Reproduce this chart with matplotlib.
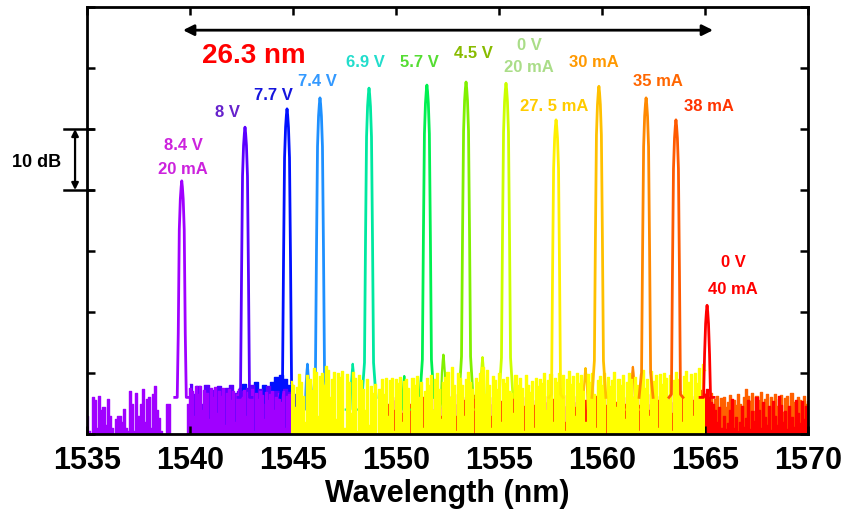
import numpy as np
from matplotlib import pyplot as plt

plt.rcParams['font.family'] = ['Liberation Sans', 'DejaVu Sans']
plt.rcParams['font.weight'] = 'bold'

# peak positions (nm) and peak levels (dB above floor of the plot)
peak_wl = [1539.6, 1542.67, 1544.71, 1546.31, 1548.69, 1551.50, 1553.40,
           1555.34, 1557.77, 1559.85, 1562.14, 1563.59, 1565.10]
peak_db = [41.5, 50.3, 53.3, 55.1, 56.7, 57.2, 57.7, 57.5, 51.5, 57.0, 55.1, 51.5, 21.1]
line_colors = ['#A000FF', '#5A00FF', '#0010FF', '#1E90FF', '#00E8A0', '#00F050', '#80F000',
               '#CCFF00', '#FFF000', '#FFC000', '#FF8800', '#FF5A00', '#FF0000']
label_colors = ['#CC22DD', '#6622CC', '#1515DD', '#3399FF', '#22DDCC', '#55DD33', '#88BB00',
                '#AADD88', '#FFCC00', '#FF9900', '#FF6600', '#FF3300', '#FF0000']
labels = [['8.4 V', '20 mA'], ['8 V'], ['7.7 V'], ['7.4 V'], ['6.9 V'], ['5.7 V'], ['4.5 V'],
          ['0 V', '20 mA'], ['27. 5 mA'], ['30 mA'], ['35 mA'], ['38 mA'], ['0 V', '40 mA']]
label_x = [1539.66, 1541.84, 1544.03, 1546.21, 1548.54, 1551.12, 1553.74,
           1556.46, 1557.67, 1559.61, 1562.72, 1565.19, 1566.36]
label_y = [[47.4, 43.6], [52.8], [55.6], [57.9], [61.1], [61.1], [62.6],
           [63.8, 60.2], [53.8], [61.0], [57.9], [53.8], [28.2, 23.9]]

# line shape of a lasing peak: offset from centre (nm) and drop below peak (dB)
shape_dx = [-0.34, -0.22, -0.17, -0.12, -0.07, -0.03, 0.0, 0.03, 0.07, 0.12, 0.17, 0.22, 0.34]
shape_drop = [60, 45, 25, 8, 3, 1, 0, 1, 3, 8, 25, 45, 60]

# weak side modes: wavelength, level, spectrum index
side_wl = [1545.7, 1547.9, 1550.4, 1552.3, 1554.2, 1559.2, 1561.5]
side_db = [11.5, 11.5, 9.5, 13.0, 12.6, 10.8, 11.0]
side_idx = [3, 4, 5, 6, 7, 9, 10]

# noise floors (0.1 nm steps unless noted)
purple_noise = [3, 0.5, 0, 6, 5.5, 1, 6.3, 4, 4.4, 1.5,
                5.7, 3, 1, 0, 2.5, 3, 3, 2, 4.1, 1,
                0.5, 7.1, 5, 0.5, 6.8, 3, 5, 7.4, 2, 5.7,
                6.0, 1, 6.6, 7.9, 4, 2.7, 0.5, 0, 0, 4.9,
                4.9, 0, 0, 0, 0, 0, 0, 0, 0, 5,
                7.5, 7.0, 3, 7.8, 6.5, 7.9, 4, 7.2, 6.8, 2.5,
                7.5, 6, 7.7, 3.5, 7.0, 6.2, 7.6, 1.5, 6.8, 7.3,
                5.5, 7.0, 2, 6.5, 7.4, 6.0, 7.2, 3, 6.9, 6.1,
                7.3, 0.5, 6.7, 5.8, 7.0, 6.4, 2.5, 6.9, 5.5, 6.6,
                7.1, 4, 6.0, 6.8, 5.2, 7.0, 1, 6.3, 6.5, 5.8, 4]
# 0.2 nm steps
violet_noise = [8.2, 6.5, 7.8, 5, 8.0, 7.2, 6.0, 7.9, 4.5, 7.5, 8.1, 6.8, 7.0,
                5.5, 7.6, 8.0, 6.2, 7.4, 5.0, 7.8, 6.6, 7.1, 4.0, 7.3, 6.9, 5.5]
blue_noise = [7.5, 8.2, 6.0, 7.8, 8.5, 6.8, 8.0, 7.2, 8.6, 9.3, 9.6, 9.0, 8.0, 6.5, 5.0]
yellow_noise = [8.7, 8.0, 4.5, 7.7, 9.8, 8.5, 6.3, 2.0, 9.6, 9.0,
                7.2, 10.9, 10.2, 3.0, 9.5, 10.0, 8.0, 11.2, 10.5, 6.0,
                9.0, 10.1, 2.5, 10.0, 9.4, 10.4, 1.0, 9.8, 8.5, 3.5,
                10.1, 9.2, 0.5, 9.6, 8.8, 7.4, 4.0, 9.0, 1.5, 7.9,
                6.8, 8.2, 0.0, 7.4, 9.0, 6.5, 9.1, 3.0, 8.8, 9.2,
                0.5, 9.0, 8.4, 9.3, 2.0, 8.7, 9.0, 7.5, 0.0, 9.1,
                8.0, 9.5, 6.0, 8.6, 1.0, 7.0, 9.2, 8.1, 9.6, 4.0,
                9.0, 10.0, 7.4, 2.5, 8.5, 9.4, 10.2, 6.0, 11.0, 8.0,
                0.5, 10.0, 9.2, 8.0, 3.0, 9.0, 10.2, 8.5, 7.4, 0.0,
                9.1, 8.5, 10.0, 11.0, 6.5, 10.5, 8.0, 1.0, 9.5, 8.8,
                7.4, 10.0, 2.0, 9.0, 8.3, 9.4, 7.0, 6.8, 3.5, 9.6,
                8.0, 9.2, 7.5, 0.5, 9.6, 8.1, 6.9, 8.7, 1.0, 9.2,
                7.8, 9.0, 8.4, 10.0, 4.0, 8.9, 9.8, 2.0, 9.2, 8.6,
                10.0, 7.6, 9.7, 0.5, 9.0, 10.3, 8.2, 9.5, 3.0, 10.0,
                8.4, 9.6, 7.0, 2.0, 9.8, 8.6, 10.0, 6.5, 1.0, 8.8,
                9.5, 8.0, 10.0, 0.0, 9.4, 7.8, 8.9, 10.2, 4.5, 9.0,
                8.0, 9.6, 2.5, 8.5, 10.0, 9.0, 6.0, 9.3, 8.1, 0.5,
                9.8, 10.5, 7.5, 9.0, 3.0, 10.4, 8.7, 9.6, 1.0, 9.9,
                8.2, 10.0, 9.1, 5.5, 9.6, 0.5, 8.8, 10.1, 9.0, 7.0,
                2.0, 9.5, 10.3, 8.6, 9.8, 3.0, 10.0, 8.4, 10.9, 6.0,
                11.5, 10.5]
red_noise = [3, 5, 2, 6, 4, 5.5, 1, 6, 3.5, 5,
             6, 2, 5, 4.5, 6.5, 3, 5, 1.5, 6, 4,
             5, 3, 6.2, 4, 2, 5.5, 6, 3, 4.5, 5.8,
             2.5, 6, 4, 5, 3, 6.5, 4.2, 1.5, 5.5, 6,
             4, 5.2, 2, 6.4, 3.5, 5, 6, 2.5, 4.8, 5.5,
             6.1, 3, 5, 4, 6.6, 2, 5.4, 4.5, 3, 6,
             5, 2.2, 6.3, 4, 5.5, 3, 6, 4.6, 2, 5.2,
             6.5, 3.5, 4.8, 5.6, 2, 6, 4, 5.3, 3, 6.2,
             4.4, 5.8, 2.5, 6, 3.8, 5, 6.4, 2, 4.6, 5.5,
             3, 6.3, 4.5, 5.2, 2.2, 6, 3.6, 5.6, 4, 6.6,
             5, 2.8, 6.2, 4.2, 5.5, 3, 6.4, 4.8, 2.4, 5.9,
             6, 4, 5.2, 2.6, 6.5, 3.4, 5, 6.1, 4.4, 2,
             5.6, 6.3, 3.2, 4.8, 6, 2.5, 5.4, 6.6, 4, 5,
             3, 6.2, 5.5, 4.2, 6.8, 2.8, 5.8, 4.6, 6.4, 3.5,
             5.2, 6.5, 4, 2.5, 6, 5, 3.6, 6.8, 4.8, 5.6,
             6.2, 4.4, 7, 7.2, 6.8, 6.5, 7.4, 6.0, 5.2, 5.0,
             4.0, 2.0, 4.5, 1.0, 3.0, 0.8, 1.8, 4.0, 5.8, 1.0,
             2.8, 0.5, 2.0, 4.6, 1.2, 2.6, 5.6, 0.8, 3.8, 2.2,
             6.0, 4.0, 1.0, 5.2, 2.8, 1.5, 4.6, 0.6, 5.4, 3.0,
             1.5, 6.2, 4.8, 2.0, 3.8, 0.8, 4.6, 2.8, 1.2, 5.6,
             3.4, 1.8, 5.4, 2.4, 4.6, 3.2]
orange_noise = [6.5, 7.0, 5.5, 6.8, 4.0, 5.7, 6.2, 3.5, 5.9, 6.0,
                4.5, 5.2, 6.4, 3.0, 5.6, 4.8, 6.6, 5.0, 2.5, 6.1,
                7.4, 6.2, 5.4, 6.8, 3.8, 6.3, 5.5, 6.9, 4.2, 5.8,
                6.6, 3.2, 6.0, 5.1, 6.5, 4.6, 5.7, 6.4, 3.6, 5.9,
                6.2, 4.4, 6.7, 5.3, 3.9, 6.0, 5.6, 4.8, 6.3, 5.0, 5.4]

# (values, start nm, stop nm, colour, zorder)
noise_sets = [
    (violet_noise, 1540.0, 1545.0, '#5A00FF', 0.9),
    (blue_noise, 1542.4, 1545.2, '#0010FF', 0.8),
    (purple_noise, 1535.0, 1545.0, '#A000FF', 1.0),
    (orange_noise, 1565.0, 1570.0, '#FF6000', 1.0),
    (red_noise, 1549.5, 1570.0, '#FF0000', 1.2),
    (yellow_noise, 1544.9, 1565.0, '#FFFF00', 2.0),
]

fig = plt.figure(figsize=(8.47, 5.10), dpi=100)
ax = fig.add_axes([87/847, 75/510, 721/847, 427/510])

for vals, start, stop, col, z in noise_sets:
    wl = np.linspace(start, stop, len(vals))
    ax.fill_between(wl, 0, vals, step='mid', color=col, lw=0, zorder=z)
    ax.plot(wl, vals, drawstyle='steps-mid', color=col, lw=1.0, zorder=z)

floor = 6
for i in range(len(peak_wl)):
    x = peak_wl[i] + np.array(shape_dx)
    y = np.maximum(peak_db[i] - np.array(shape_drop), floor)
    z = 1.5 if i < 8 else 3
    ax.plot(x, y, color=line_colors[i], lw=2.0, zorder=z)
    for j, t in enumerate(labels[i]):
        ax.text(label_x[i], label_y[i][j], t, color=label_colors[i], fontsize=12,
                fontweight='bold', ha='center', va='center', zorder=5)

for wl0, h, k in zip(side_wl, side_db, side_idx):
    x = wl0 + np.array(shape_dx)
    y = np.maximum(h - np.array(shape_drop), 4)
    ax.plot(x, y, color=line_colors[k], lw=1.6, zorder=1.6)

# tuning range arrow
ax.annotate('', xy=(1565.39, 66.2), xytext=(1539.66, 66.2),
            arrowprops=dict(arrowstyle='<|-|>', color='black', lw=2,
                            mutation_scale=16, shrinkA=0, shrinkB=0))
ax.text(1543.1, 62.1, '26.3 nm', color='#FF0000', fontsize=20, fontweight='bold',
        ha='center', va='center')

# 10 dB scale bar
ax.plot([1533.88, 1535.3], [50, 50], color='black', lw=1.8, clip_on=False)
ax.plot([1533.88, 1535.3], [40, 40], color='black', lw=1.8, clip_on=False)
ax.annotate('', xy=(1534.42, 50), xytext=(1534.42, 40), annotation_clip=False,
            arrowprops=dict(arrowstyle='<|-|>', color='black', lw=1.6,
                            mutation_scale=10, shrinkA=0, shrinkB=0))
ax.text(1532.57, 44.6, '10 dB', fontsize=13, fontweight='bold', ha='center', va='center')

ax.set_xlim(1535, 1570)
ax.set_ylim(0, 70)
ax.set_xticks(np.arange(1535, 1571, 5))
ax.set_yticks(np.arange(0, 71, 10))
ax.set_yticklabels([])
ax.tick_params(direction='in', length=6, width=1.8, top=True, right=True,
               labelsize=22, pad=8)
for lab in ax.get_xticklabels():
    lab.set_fontweight('bold')
for s in ax.spines.values():
    s.set_linewidth(2)
    s.set_zorder(6)
ax.set_xlabel('Wavelength (nm)', fontsize=22, fontweight='bold', labelpad=2)

plt.savefig('out.png', dpi=100)
